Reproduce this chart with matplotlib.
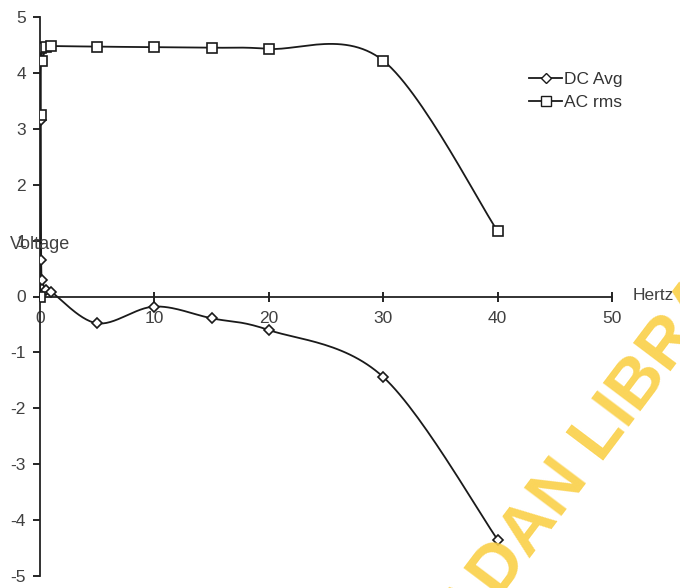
import numpy as np
import matplotlib
matplotlib.use("Agg")
import matplotlib.pyplot as plt

plt.rcParams['font.family'] = ['Liberation Sans', 'DejaVu Sans']
plt.rcParams['axes.unicode_minus'] = False

# frequency sweep (Hz) and measured voltages
hertz = [0, 0.05, 0.1, 0.2, 0.5, 1, 5, 10, 15, 20, 30, 40]
dc_avg = [4.45, 3.15, 0.65, 0.3, 0.12, 0.08, -0.48, -0.18, -0.39, -0.60, -1.44, -4.35]
ac_rms = [0.0, 3.25, 4.45, 4.22, 4.47, 4.48, 4.47, 4.46, 4.45, 4.43, 4.22, 1.17]

xticks = [0, 10, 20, 30, 40, 50]
yticks = [-5, -4, -3, -2, -1, 0, 1, 2, 3, 4, 5]


def smooth(ax, xs, ys, n=30):
    # excel-like smoothed line: catmull-rom in screen space
    pts = ax.transData.transform(np.column_stack([xs, ys]))
    pts = np.vstack([pts[0], pts, pts[-1]])
    out = []
    for i in range(1, len(pts) - 2):
        p0, p1, p2, p3 = pts[i - 1], pts[i], pts[i + 1], pts[i + 2]
        t = np.linspace(0, 1, n)[:, None]
        c = 0.5 * ((2 * p1) + (-p0 + p2) * t + (2 * p0 - 5 * p1 + 4 * p2 - p3) * t ** 2
                   + (-p0 + 3 * p1 - 3 * p2 + p3) * t ** 3)
        out.append(c)
    out = np.vstack(out)
    return ax.transData.inverted().transform(out).T


fig = plt.figure(figsize=(6.8, 5.88), dpi=100)
ax = fig.add_axes([40 / 680, 1 - 576 / 588, 572 / 680, 559 / 588])
ax.set_xlim(0, 50)
ax.set_ylim(-5, 5)

ax.spines['left'].set_position(('data', 0))
ax.spines['bottom'].set_position(('data', 0))
ax.spines['top'].set_visible(False)
ax.spines['right'].set_visible(False)
for s in ['left', 'bottom']:
    ax.spines[s].set_linewidth(1.3)
    ax.spines[s].set_color('#222222')

ax.set_xticks(xticks)
ax.set_yticks(yticks)
ax.tick_params(axis='x', direction='inout', length=7, width=1.2, pad=7,
               labelsize=12.5, labelcolor='#404040')
ax.tick_params(axis='y', direction='out', length=5, width=1.2, pad=5,
               labelsize=12.5, labelcolor='#404040')

lc = '#1a1a1a'
sx, sy = smooth(ax, hertz, dc_avg)
ax.plot(sx, sy, color=lc, lw=1.3, zorder=3)
ax.plot(hertz, dc_avg, ls='none', marker='D', ms=5, mfc='white', mec=lc, mew=1.2, zorder=4)
sx, sy = smooth(ax, hertz, ac_rms)
ax.plot(sx, sy, color=lc, lw=1.3, zorder=3)
ax.plot(hertz, ac_rms, ls='none', marker='s', ms=7, mfc='white', mec=lc, mew=1.2, zorder=4)

# legend entries
ax.plot([], [], color=lc, lw=1.3, marker='D', ms=5, mfc='white', mec=lc, label='DC Avg')
ax.plot([], [], color=lc, lw=1.3, marker='s', ms=7, mfc='white', mec=lc, label='AC rms')
ax.legend(loc='upper left', bbox_to_anchor=(0.828, 0.93), frameon=False, fontsize=12.5,
          handlelength=1.9, handletextpad=0.1, labelspacing=0.45, labelcolor='#333333')

ax.text(-2.6, 0.93, 'Voltage', fontsize=13, color='#404040', va='center', ha='left')
ax.text(51.8, 0.02, 'Hertz', fontsize=12.5, color='#404040', va='center', ha='left',
        clip_on=False)

# library watermark
fig.text(427 / 680, -107 / 588, 'IBADAN LIBRARY', fontsize=50, fontweight='bold',
         color='#fad047', alpha=0.9, rotation=53, rotation_mode='anchor',
         ha='left', va='baseline', zorder=0)

fig.savefig('out.png', dpi=100)
